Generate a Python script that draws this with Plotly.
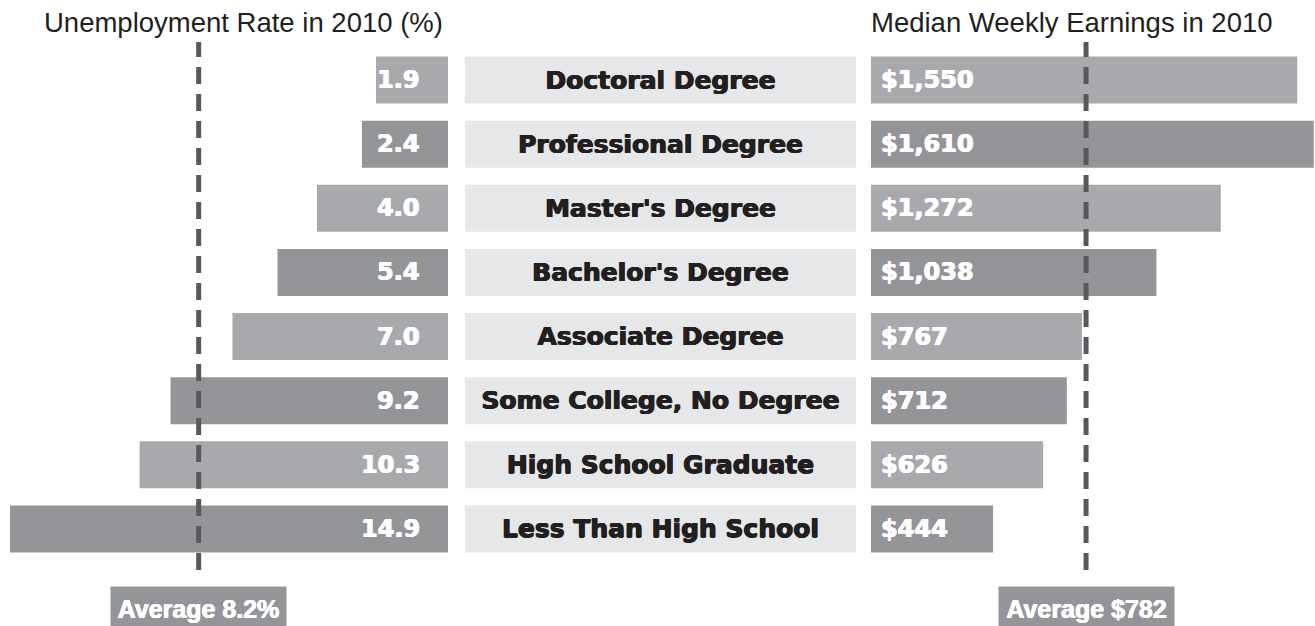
import plotly.graph_objects as go

# ---- data ----
categories = ["Doctoral Degree", "Professional Degree", "Master's Degree",
              "Bachelor's Degree", "Associate Degree", "Some College, No Degree",
              "High School Graduate", "Less Than High School"]
unemployment = [1.9, 2.4, 4.0, 5.4, 7.0, 9.2, 10.3, 14.9]
earnings = [1550, 1610, 1272, 1038, 767, 712, 626, 444]
avg_unemployment = 8.2
avg_earnings = 782
title_left = "Unemployment Rate in 2010 (%)"
title_right = "Median Weekly Earnings in 2010"

# ---- style ----
W, H = 1315, 626
LIGHT, DARK = "#a7a9ac", "#939598"
BOX = "#e6e7e8"
LINE = "#58595b"
INK = "#231f20"
HEAVY = "DejaVu Sans"
PLAIN = "Liberation Sans, Arial, sans-serif"
SCALE_L = 28.15      # px per percentage point on the left panel
LEFT_PAD = 0.657     # label padding at the root of the left bars (axis units)
SCALE_R = 0.275      # px per dollar on the right panel
colors = [LIGHT if i % 2 == 0 else DARK for i in range(len(categories))]

def px(x):
    return x / W

def py(y):
    return 1 - y / H

def thick(c, d=0.6):
    return f"{d}px 0 0 {c}, -{d}px 0 0 {c}, 0 {d/2}px 0 {c}"

fig = go.Figure()

fig.add_trace(go.Bar(y=categories, x=[u + LEFT_PAD for u in unemployment],
                     base=-LEFT_PAD, orientation="h",
                     xaxis="x", yaxis="y", marker=dict(color=colors, line=dict(width=0)),
                     customdata=unemployment, hoverinfo="skip"))
fig.add_trace(go.Bar(y=categories, x=[1] * len(categories), orientation="h",
                     xaxis="x2", yaxis="y", marker=dict(color=BOX, line=dict(width=0)),
                     text=categories, textposition="inside", insidetextanchor="middle",
                     textfont=dict(family=HEAVY, size=25, color=INK, weight="bold",
                                   shadow=thick(INK)),
                     hoverinfo="skip"))
fig.add_trace(go.Bar(y=categories, x=earnings, orientation="h",
                     xaxis="x3", yaxis="y", marker=dict(color=colors, line=dict(width=0)),
                     hoverinfo="skip"))

annotations = []
for cat, u, e in zip(categories, unemployment, earnings):
    annotations.append(dict(x=-LEFT_PAD, y=cat, xref="x", yref="y", text=f"{u:.1f}",
                            xanchor="right", yanchor="middle", xshift=-26, showarrow=False,
                            font=dict(family=HEAVY, size=24, color="white", weight="bold",
                                      shadow=thick("white"))))
    annotations.append(dict(x=0, y=cat, xref="x3", yref="y", text=f"${e:,}",
                            xanchor="left", yanchor="middle", xshift=8, showarrow=False,
                            font=dict(family=HEAVY, size=24, color="white", weight="bold",
                                      shadow=thick("white"))))

annotations.append(dict(x=px(445), y=py(22), xref="paper", yref="paper", text=title_left,
                        xanchor="right", yanchor="middle", showarrow=False,
                        font=dict(family=PLAIN, size=27.5, color=INK)))
annotations.append(dict(x=px(869), y=py(22), xref="paper", yref="paper", text=title_right,
                        xanchor="left", yanchor="middle", showarrow=False,
                        font=dict(family=PLAIN, size=27.5, color=INK)))

for xr, val, label in [("x", avg_unemployment, f"Average {avg_unemployment}%"),
                       ("x3", avg_earnings, f"Average ${avg_earnings}")]:
    annotations.append(dict(x=val, y=py(586), xref=xr, yref="paper", text=label,
                            xanchor="center", yanchor="top", showarrow=False,
                            width=175, height=44, bgcolor=DARK, borderpad=0,
                            font=dict(family=PLAIN, size=25, color="white", weight="bold",
                                      shadow=thick("white", 0.4))))

shapes = []
for xr, val in [("x", avg_unemployment), ("x3", avg_earnings)]:
    shapes.append(dict(type="line", xref=xr, yref="paper", x0=val, x1=val,
                       y0=py(570), y1=py(42), layer="above",
                       line=dict(color=LINE, width=5, dash="17px,10px")))

axis_off = dict(visible=False, showgrid=False, zeroline=False, fixedrange=True)
fig.update_layout(
    width=W, height=H,
    margin=dict(l=0, r=0, t=0, b=0),
    paper_bgcolor="white", plot_bgcolor="white",
    showlegend=False, bargap=0.267, barmode="overlay",
    xaxis=dict(domain=[0, px(448)], range=[448 / SCALE_L - LEFT_PAD, -LEFT_PAD],
               anchor="y", **axis_off),
    xaxis2=dict(domain=[px(465), px(856)], range=[0, 1], anchor="y", **axis_off),
    xaxis3=dict(domain=[px(871), 1], range=[0, 444 / SCALE_R], anchor="y", **axis_off),
    yaxis=dict(domain=[py(561), py(48)], type="category", categoryorder="array",
               categoryarray=categories, range=[7.5, -0.5], **axis_off),
    annotations=annotations,
    shapes=shapes,
)

fig.write_html("out.html", config={"displayModeBar": False},
               post_script="document.body.style.margin='0';document.body.style.overflow='hidden';")
